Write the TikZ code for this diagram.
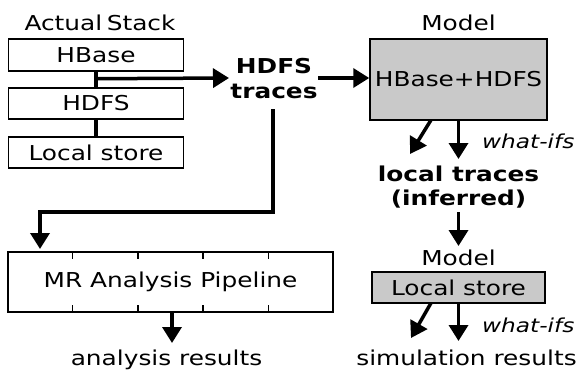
\documentclass[tikz,border=0pt]{standalone}
\usepackage{fontspec}
\setmainfont[FakeStretch=1.21]{DejaVu Sans}
\usetikzlibrary{arrows.meta,calc}
\tikzset{
  stackbox/.style={draw,line width=1.5pt,minimum width=175pt,minimum height=31pt,inner sep=0pt,font=\fontsize{20.5}{24}\selectfont},
  modelbox/.style={draw,line width=1.5pt,fill=gray!42,inner sep=0pt,font=\fontsize{20.5}{24}\selectfont},
  lbl/.style={inner sep=0pt,anchor=base,font=\fontsize{20.5}{24}\selectfont},
  blbl/.style={inner sep=0pt,anchor=base,font=\fontsize{20.5}{24}\selectfont\bfseries},
  ilbl/.style={inner sep=0pt,anchor=base west,font=\fontsize{19.2}{24}\selectfont\itshape},
  conn/.style={line width=3.5pt},
  tick/.style={line width=1.8pt},
  arr/.style={line width=3.5pt,-{Triangle[length=16pt,width=19pt]}},
}
\begin{document}
\begin{tikzpicture}[x=1pt,y=-1pt]
\useasboundingbox (0,0) rectangle (580,369);
% left column
\node[lbl] (actual) at (100,31) {Actual\hspace{0.22em}Stack};
\node[stackbox,minimum height=32pt] (hbase) at (96,55) {HBase};
\node[stackbox] (hdfs) at (96,103.5) {HDFS};
\node[stackbox] (local) at (96,152.5) {Local store};
\draw[conn] (hbase.south) -- (hdfs.north);
\draw[conn] (hdfs.south) -- (local.north);
\coordinate (j) at ($(hbase.south)!0.45!(hdfs.north)$);
% HDFS traces
\node[blbl] (hdfst) at (274,73) {HDFS};
\node[blbl] (traces) at (274,98) {traces};
\coordinate (tin) at (229,78);
\draw[arr] (j) -- (tin);
% model box
\node[lbl] (model1l) at (458.5,31) {Model};
\node[modelbox,minimum width=177pt,minimum height=81pt] (model1) at (458.5,79.5) {HBase+HDFS};
\coordinate (tout) at (318,78);
\draw[arr] (tout) -- (model1.west |- tout);
% local traces
\coordinate (d1s) at (431,120);
\coordinate (d1e) at (410,154);
\coordinate (v1e) at (458.5,159);
\draw[arr] (d1s) -- (d1e);
\draw[arr] (model1.south) -- (v1e);
\node[ilbl] (wi1) at (482,148) {what-ifs};
\node[blbl] (lt1) at (458.5,181) {local traces};
\node[blbl] (lt2) at (458.5,205) {(inferred)};
% model 2
\coordinate (v2s) at (458.5,212);
\coordinate (v2e) at (458.5,246);
\draw[arr] (v2s) -- (v2e);
\node[lbl] (model2l) at (458.5,265) {Model};
\node[modelbox,minimum width=173pt,minimum height=31pt] (model2) at (458.5,287.5) {Local store};
\coordinate (d2s) at (431,303);
\coordinate (d2e) at (411,338);
\coordinate (v3e) at (458.5,341);
\draw[arr] (d2s) -- (d2e);
\draw[arr] (model2.south) -- (v3e);
\node[ilbl] (wi2) at (482,332) {what-ifs};
\node[lbl] (sim) at (466.5,365) {simulation results};
% MR pipeline
\node[stackbox,minimum width=325pt,minimum height=60pt] (mr) at (170.5,282) {MR Analysis Pipeline};
\foreach \f in {0.2,0.4,0.6,0.8}{
  \draw[tick] ($(mr.north west)!\f!(mr.north east)$) -- ++(0,8);
  \draw[tick] ($(mr.south west)!\f!(mr.south east)$) -- ++(0,-8);
}
\coordinate (ts) at (273,109);
\coordinate (tc1) at (273,212);
\coordinate (tc2) at (40,212);
\coordinate (mre) at (40,249);
\draw[line width=3.5pt,-{Triangle[length=16pt,width=19pt]}] (ts) -- (tc1) -- (tc2) -- (mre);
\coordinate (ae) at (172,343);
\draw[arr] (mr.south -| ae) -- (ae);
\node[lbl] (ares) at (166.5,365) {analysis results};
\end{tikzpicture}
\end{document}
